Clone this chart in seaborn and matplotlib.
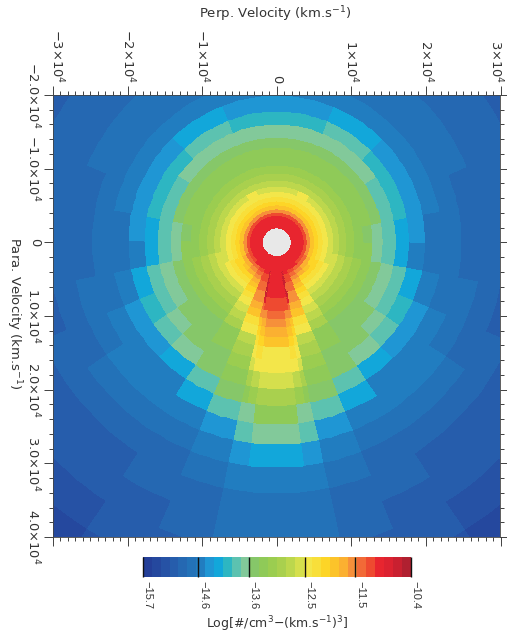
import numpy as np
import matplotlib
matplotlib.use("Agg")
import matplotlib.pyplot as plt
import seaborn as sns
from matplotlib.colors import ListedColormap
from matplotlib.ticker import FixedLocator, MultipleLocator, NullFormatter
from matplotlib.transforms import ScaledTranslation

# speed bin edges (km/s)
speed_edges = [2030, 2230, 2470, 2740, 3040, 3380, 3740, 4150, 4600, 5140, 5680, 6280,
               6960, 7700, 8510, 9460, 10540, 11690, 12970, 14320, 16080, 17840, 20000,
               22300, 24860, 27570, 30680, 34190, 37970, 42030, 46620, 51620]
# outer edge of each half-sector, degrees from the +para direction
angle_edges = [7, 10, 12, 22, 33, 45, 56, 67, 79, 90, 101, 112, 124, 135, 146, 158, 169, 180]
# colour level per speed bin (rows) and half-sector (columns)
levels = [
 [26,26,26,26,26,26,26,26,26,26,26,26,26,26,26,26,26,26],
 [26,26,26,26,26,26,26,26,26,26,26,26,26,26,26,26,26,26],
 [26,26,26,26,26,26,26,26,26,26,26,26,26,26,26,26,26,26],
 [26,26,26,26,26,26,26,26,26,26,26,26,26,26,26,26,26,26],
 [26,26,26,26,26,26,26,26,26,26,26,26,26,26,26,26,26,26],
 [26,26,26,26,26,26,26,26,26,26,26,26,26,26,26,26,26,26],
 [26,26,26,26,26,26,25,25,25,25,25,25,25,25,25,25,25,25],
 [26,26,28,26,25,24,24,24,23,23,23,23,23,23,23,23,23,23],
 [26,26,28,25,24,23,22,22,21,21,21,21,21,21,21,21,21,21],
 [26,26,28,25,23,22,21,20,20,20,20,20,20,20,20,20,20,20],
 [26,26,28,24,22,20,20,20,19,19,19,19,19,19,19,19,19,19],
 [26,26,28,24,21,19,19,19,18,18,18,18,18,18,18,18,18,18],
 [26,26,28,23,20,18,18,18,17,17,17,17,17,17,17,18,17,17],
 [25,25,27,23,19,17,17,17,17,16,16,16,16,16,16,16,16,16],
 [25,25,24,22,18,16,16,16,16,15,15,15,15,15,15,15,15,15],
 [24,23,23,21,17,15,15,15,15,14,14,14,14,14,14,14,14,14],
 [23,22,21,19,16,14,14,14,14,13,13,13,13,13,13,13,13,13],
 [22,21,20,18,15,13,13,13,13,13,12,13,13,13,13,13,13,13],
 [21,20,19,16,13,12,12,12,12,11,11,12,12,12,12,12,12,12],
 [18,19,18,15,13,12,12,11,11,10,10,10,10,11,11,11,11,11],
 [18,18,17,14,12,12,11,10,10, 8, 8, 9, 9, 9,10,10, 9, 9],
 [17,16,15,13,12,11,10, 9, 8, 6, 7, 7, 7, 7, 8, 8, 7, 7],
 [15,14,13,12,10, 8, 7, 7, 6, 5, 5, 6, 6, 6, 6, 6, 6, 6],
 [13,11,11,10, 8, 6, 6, 6, 5, 5, 5, 5, 5, 5, 5, 5, 5, 5],
 [11,10,10, 7, 6, 6, 6, 5, 5, 4, 4, 4, 5, 5, 5, 5, 4, 4],
 [ 8, 7, 7, 6, 5, 5, 5, 4, 4, 4, 4, 4, 4, 4, 4, 4, 4, 4],
 [ 6, 6, 6, 5, 4, 4, 4, 4, 3, 3, 3, 4, 4, 4, 4, 4, 3, 3],
 [ 5, 5, 5, 4, 4, 3, 3, 3, 3, 3, 3, 3, 3, 3, 3, 3, 3, 3],
 [ 5, 5, 5, 4, 3, 3, 3, 2, 3, 3, 3, 3, 3, 3, 3, 3, 2, 2],
 [ 4, 4, 4, 3, 3, 2, 2, 2, 3, 3, 3, 3, 3, 3, 2, 2, 2, 2],
 [ 3, 3, 3, 2, 2, 1, 1, 1, 2, 3, 3, 3, 3, 3, 2, 2, 2, 2],
]
level_colors = ["#243f98", "#25489e", "#2652a5", "#265dac", "#2568b2", "#2372b8", "#217dc0",
                "#1f96d4", "#12a7da", "#2db6c2", "#5cc2b0", "#82c99a", "#86c769", "#8fca58",
                "#9bcd50", "#a9d04e", "#bcd74d", "#d5df4d", "#f3e64a", "#f8df3a", "#fdd527",
                "#fcc32a", "#fbb031", "#f6903a", "#f26a37", "#ee4a30", "#e8252f", "#dc2230",
                "#c92030", "#b02030"]
n_levels = len(level_colors)
cbar_ticks = [-15.7, -14.6, -13.6, -12.5, -11.5, -10.4]
cbar_labels = ["−15.7", "−14.6", "−13.6", "−12.5", "−11.5", "−10.4"]
xticks = [-30000, -20000, -10000, 0, 10000, 20000, 30000]
xlabels = [r"$-3{\times}10^{4}$", r"$-2{\times}10^{4}$", r"$-1{\times}10^{4}$", "0",
           r"$1{\times}10^{4}$", r"$2{\times}10^{4}$", r"$3{\times}10^{4}$"]
yticks = [-20000, -10000, 0, 10000, 20000, 30000, 40000]
ylabels = [r"$-2.0{\times}10^{4}$", r"$-1.0{\times}10^{4}$", "0", r"$1.0{\times}10^{4}$",
           r"$2.0{\times}10^{4}$", r"$3.0{\times}10^{4}$", r"$4.0{\times}10^{4}$"]

sns.set_theme(style="ticks")
plt.rcParams["font.family"] = ["DejaVu Sans"]
plt.rcParams["mathtext.default"] = "regular"
TXT = "#333333"
cmap = ListedColormap(sns.color_palette(level_colors, n_colors=n_levels))

W, H = 507, 634
fig = plt.figure(figsize=(W / 100, H / 100), dpi=100, facecolor="white")
ax = fig.add_axes([53 / W, 1 - 537 / H, 447.5 / W, 442 / H], facecolor="#e8e8e8")

# build the full polar mesh
half = np.array(angle_edges, float)
full_edges = np.concatenate([-half[::-1], half])
vals = np.array(levels)
C = np.hstack([vals[:, :0:-1], vals[:, :1], vals[:, 1:]])
sub = 5
idx = np.linspace(0, len(full_edges) - 1, (len(full_edges) - 1) * sub + 1)
theta = np.deg2rad(np.interp(idx, np.arange(len(full_edges)), full_edges))
C_fine = np.repeat(C, sub, axis=1)
R, T = np.meshgrid(speed_edges, theta, indexing="ij")
ax.pcolormesh(R * np.sin(T), R * np.cos(T), C_fine, cmap=cmap, vmin=-0.5, vmax=n_levels - 0.5,
              shading="flat", edgecolors="face", linewidth=0.2)

ax.set_xlim(-30000, 30000)
ax.set_ylim(40000, -20000)
ax.xaxis.set_major_locator(FixedLocator(xticks))
ax.xaxis.set_minor_locator(MultipleLocator(1000))
ax.yaxis.set_major_locator(FixedLocator(yticks))
ax.yaxis.set_minor_locator(MultipleLocator(2000))
ax.xaxis.set_minor_formatter(NullFormatter())
ax.yaxis.set_minor_formatter(NullFormatter())
ax.tick_params(axis="both", which="major", length=6.5, width=0.6, color="#222222",
               top=True, bottom=True, left=True, right=True,
               labeltop=True, labelbottom=False, labelleft=True, labelright=False,
               labelsize=9.4, labelcolor=TXT, pad=2)
ax.tick_params(axis="both", which="minor", length=3, width=0.6, color="#222222",
               top=True, bottom=True, left=True, right=True)
ax.set_xticks(xticks)
ax.set_xticklabels(xlabels, rotation=-90, ha="center", va="bottom")
ax.set_yticks(yticks)
ax.set_yticklabels(ylabels, rotation=-90, ha="right", va="center")
# keep the end labels inside the figure, as in the reference
top_labels = [t.label2 for t in ax.xaxis.get_major_ticks()]
top_labels[-1].set_transform(top_labels[-1].get_transform()
                             + ScaledTranslation(-4 / 100, 0, fig.dpi_scale_trans))
top_labels[0].set_transform(top_labels[0].get_transform()
                            + ScaledTranslation(4 / 100, 0, fig.dpi_scale_trans))
for s in ax.spines.values():
    s.set_linewidth(0.6)
    s.set_color("#444444")
fig.text(275 / W, 1 - 14 / H, r"Perp. Velocity (km.s$^{-1}$)", ha="center", va="center",
         fontsize=9.5, color=TXT)
fig.text(14 / W, 1 - 313 / H, r"Para. Velocity (km.s$^{-1}$)", ha="center", va="center",
         rotation=-90, fontsize=9.5, color=TXT)

# colour bar
cax = fig.add_axes([142.7 / W, 1 - 577 / H, 268 / W, 20.3 / H])
sns.heatmap(np.arange(n_levels).reshape(1, -1), cmap=cmap, vmin=-0.5, vmax=n_levels - 0.5,
            cbar=False, ax=cax, xticklabels=False, yticklabels=False)
pos = [(v + 15.7) / 5.3 * n_levels for v in cbar_ticks]
cax.vlines(pos, 0, 1, color="#111111", linewidth=1.0, clip_on=False)
cax.set_xticks(pos)
cax.set_xticklabels(cbar_labels, rotation=-90, fontsize=8, family="Liberation Sans", color=TXT,
                    ha="left", va="top")
cax.tick_params(axis="x", length=0, pad=3)
cax.set_yticks([])
for s in cax.spines.values():
    s.set_visible(False)
fig.text(277 / W, 1 - 624 / H, r"Log[#/cm$^{3}$$-$(km.s$^{-1}$)$^{3}$]", ha="center", va="center",
         fontsize=9, color=TXT)

fig.savefig("out.png", dpi=100)
